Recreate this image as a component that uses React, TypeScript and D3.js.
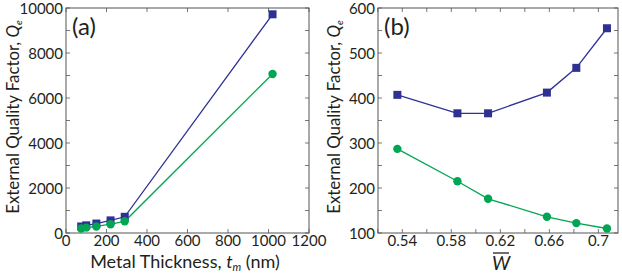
import React from "react";
import * as d3 from "d3";

// panel (a): metal thickness sweep
const thickness = [75, 100, 150, 220, 290, 1020];
const qeBlueA = [290, 340, 420, 560, 720, 9720];
const qeGreenA = [200, 240, 290, 390, 520, 7070];
const xTicksA = [0, 200, 400, 600, 800, 1000, 1200];
const yTicksA = [0, 2000, 4000, 6000, 8000, 10000];

// panel (b): normalised width sweep
const wBar = [0.536, 0.585, 0.61, 0.658, 0.682, 0.707];
const qeBlueB = [407, 366, 366, 412, 467, 555];
const qeGreenB = [287, 215, 176, 136, 122, 110];
const xTicksB = [0.54, 0.58, 0.62, 0.66, 0.7];
const yTicksB = [100, 200, 300, 400, 500, 600];

const BLUE = "#2e3192";
const GREEN = "#00a651";
const AXIS = "#555";
const TEXT = "#231f20";
const FONT = "Lato, 'Open Sans', sans-serif";

type PanelProps = {
  left: number;
  right: number;
  top: number;
  bottom: number;
  xDomain: [number, number];
  yDomain: [number, number];
  xs: number[];
  blue: number[];
  green: number[];
  xTicks: number[];
  xMinor: number[];
  yTicks: number[];
  yMinor: number[];
  xFmt: (v: number) => string;
  letter: string;
  xLabel: React.ReactNode;
  yLabelX: number;
};

function Panel(p: PanelProps) {
  const x = d3.scaleLinear().domain(p.xDomain).range([p.left, p.right]);
  const y = d3.scaleLinear().domain(p.yDomain).range([p.bottom, p.top]);
  const line = d3
    .line<number>()
    .x((_, i) => x(p.xs[i]))
    .y((d) => y(d));
  const tl = 4;
  return (
    <g>
      <defs>
        <clipPath id={"clip" + p.letter}>
          <rect x={p.left} y={p.top - 10} width={p.right - p.left + 10} height={p.bottom - p.top + 10} />
        </clipPath>
      </defs>
      {/* ticks on all four sides, pointing in */}
      {p.xMinor.map((v) => (
        <g key={"xm" + v} stroke={AXIS} strokeWidth={0.8}>
          <line x1={x(v)} x2={x(v)} y1={p.bottom} y2={p.bottom - tl} />
          <line x1={x(v)} x2={x(v)} y1={p.top} y2={p.top + tl} />
        </g>
      ))}
      {p.yMinor.map((v) => (
        <g key={"ym" + v} stroke={AXIS} strokeWidth={0.8}>
          <line x1={p.left} x2={p.left + tl} y1={y(v)} y2={y(v)} />
          <line x1={p.right} x2={p.right - tl} y1={y(v)} y2={y(v)} />
        </g>
      ))}
      <rect
        x={p.left}
        y={p.top}
        width={p.right - p.left}
        height={p.bottom - p.top}
        fill="none"
        stroke={AXIS}
        strokeWidth={1}
      />
      {p.xTicks.map((v) => (
        <text
          key={"xt" + v}
          x={x(v)}
          y={p.bottom + 13}
          textAnchor="middle"
          fontSize={15}
          fill={TEXT}
        >
          {p.xFmt(v)}
        </text>
      ))}
      {p.yTicks.map((v) => (
        <text
          key={"yt" + v}
          x={p.left - 3}
          y={y(v) + 5.5}
          textAnchor="end"
          fontSize={15}
          fill={TEXT}
        >
          {v}
        </text>
      ))}
      <g clipPath={`url(#clip${p.letter})`}>
        <path d={line(p.blue) || ""} fill="none" stroke={BLUE} strokeWidth={1.3} />
        <path d={line(p.green) || ""} fill="none" stroke={GREEN} strokeWidth={1.3} />
        {p.blue.map((v, i) => (
          <rect key={"b" + i} x={x(p.xs[i]) - 4} y={y(v) - 4} width={8} height={8} fill={BLUE} />
        ))}
        {p.green.map((v, i) => (
          <circle key={"g" + i} cx={x(p.xs[i])} cy={y(v)} r={4.2} fill={GREEN} />
        ))}
      </g>
      <text x={p.left + 6} y={p.top + 27} fontSize={24} fill={TEXT}>
        ({p.letter})
      </text>
      <text
        transform={`translate(${p.yLabelX},117) rotate(-90)`}
        textAnchor="middle"
        fontSize={16.8}
        fill={TEXT}
      >
        External Quality Factor, <tspan fontStyle="italic">Q</tspan>
        <tspan fontStyle="italic" fontSize={10} dy={3}>
          e
        </tspan>
      </text>
      {p.xLabel}
    </g>
  );
}

export default function App() {
  const xMinorA = d3.range(0, 1201, 200);
  const yMinorA = d3.range(0, 10001, 1000);
  const xMinorB = d3.range(0.52, 0.7161, 0.02);
  const yMinorB = d3.range(100, 601, 50);
  return (
    <div>
      <style>{`body{margin:0}`}</style>
      <svg width={622} height={277} style={{ display: "block", fontFamily: FONT }}>
        <rect width={622} height={277} fill="#fff" />
        <Panel
          left={66}
          right={309}
          top={8}
          bottom={233}
          xDomain={[0, 1200]}
          yDomain={[0, 10000]}
          xs={thickness}
          blue={qeBlueA}
          green={qeGreenA}
          xTicks={xTicksA}
          xMinor={xMinorA}
          yTicks={yTicksA}
          yMinor={yMinorA}
          xFmt={(v) => String(v)}
          letter="a"
          yLabelX={19}
          xLabel={
            <text x={185} y={268} textAnchor="middle" fontSize={18} fill={TEXT}>
              Metal Thickness, <tspan fontStyle="italic">t</tspan>
              <tspan fontStyle="italic" fontSize={11} dy={3}>
                m
              </tspan>
              <tspan dy={-3}> (nm)</tspan>
            </text>
          }
        />
        <Panel
          left={378}
          right={618}
          top={8}
          bottom={233}
          xDomain={[0.5202, 0.716]}
          yDomain={[100, 600]}
          xs={wBar}
          blue={qeBlueB}
          green={qeGreenB}
          xTicks={xTicksB}
          xMinor={xMinorB}
          yTicks={yTicksB}
          yMinor={yMinorB}
          xFmt={(v) => d3.format("")(+v.toFixed(2))}
          letter="b"
          yLabelX={340}
          xLabel={
            <g>
              <line x1={493} x2={509} y1={253} y2={253} stroke={TEXT} strokeWidth={1.3} />
              <text x={501} y={270} textAnchor="middle" fontSize={19} fontStyle="italic" fill={TEXT}>
                W
              </text>
            </g>
          }
        />
      </svg>
    </div>
  );
}
